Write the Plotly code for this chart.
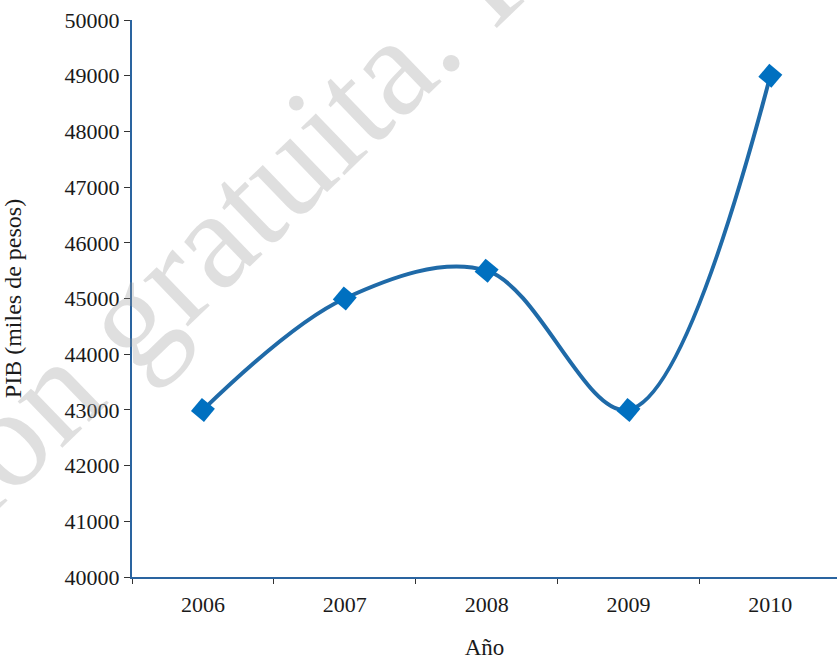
import plotly.graph_objects as go

years = ["2006", "2007", "2008", "2009", "2010"]
pib = [43000, 45000, 45500, 43000, 49000]
y_ticks = list(range(40000, 50001, 1000))

line_color = "#1f6aa8"
marker_color = "#0070c0"
axis_color = "#2a64a0"
serif = "Liberation Serif, Times New Roman, serif"

fig = go.Figure()

fig.add_trace(
    go.Scatter(
        x=years,
        y=pib,
        mode="lines+markers",
        line=dict(color=line_color, width=4, shape="spline", smoothing=1.0),
        marker=dict(symbol="square", size=17, angle=40, color=marker_color),
        showlegend=False,
    )
)

# watermark across the chart
fig.add_annotation(
    text="Distribución gratuita. Prohibida su venta",
    xref="paper",
    yref="paper",
    x=(392 - 132) / 705,
    y=(577 - 64) / 557,
    xanchor="center",
    yanchor="middle",
    showarrow=False,
    textangle=-44,
    font=dict(family=serif, size=140, color="rgba(150,150,150,0.3)"),
)

fig.update_layout(
    width=837,
    height=660,
    plot_bgcolor="white",
    paper_bgcolor="white",
    margin=dict(l=132, r=0, t=20, b=83),
    font=dict(family=serif, size=22, color="#1a1a1a"),
)

fig.update_xaxes(
    range=[-0.5, 4.47],
    tickson="boundaries",
    ticks="outside",
    ticklen=5,
    tickcolor="#333333",
    ticklabelstandoff=7,
    showline=True,
    linecolor=axis_color,
    linewidth=2,
    showgrid=False,
    automargin=False,
    title=dict(text="Año", standoff=25, font=dict(size=23)),
)

fig.update_yaxes(
    range=[40000, 50000],
    tickvals=y_ticks,
    tickformat="d",
    ticks="outside",
    ticklen=6,
    tickcolor="#333333",
    showline=True,
    linecolor=axis_color,
    linewidth=2,
    showgrid=False,
    zeroline=False,
    automargin=False,
    title=dict(text="PIB (miles de pesos)", standoff=36, font=dict(size=24)),
)

fig.write_html(
    "out.html",
    config={"displayModeBar": False},
    post_script="document.body.style.margin = '0';",
)
